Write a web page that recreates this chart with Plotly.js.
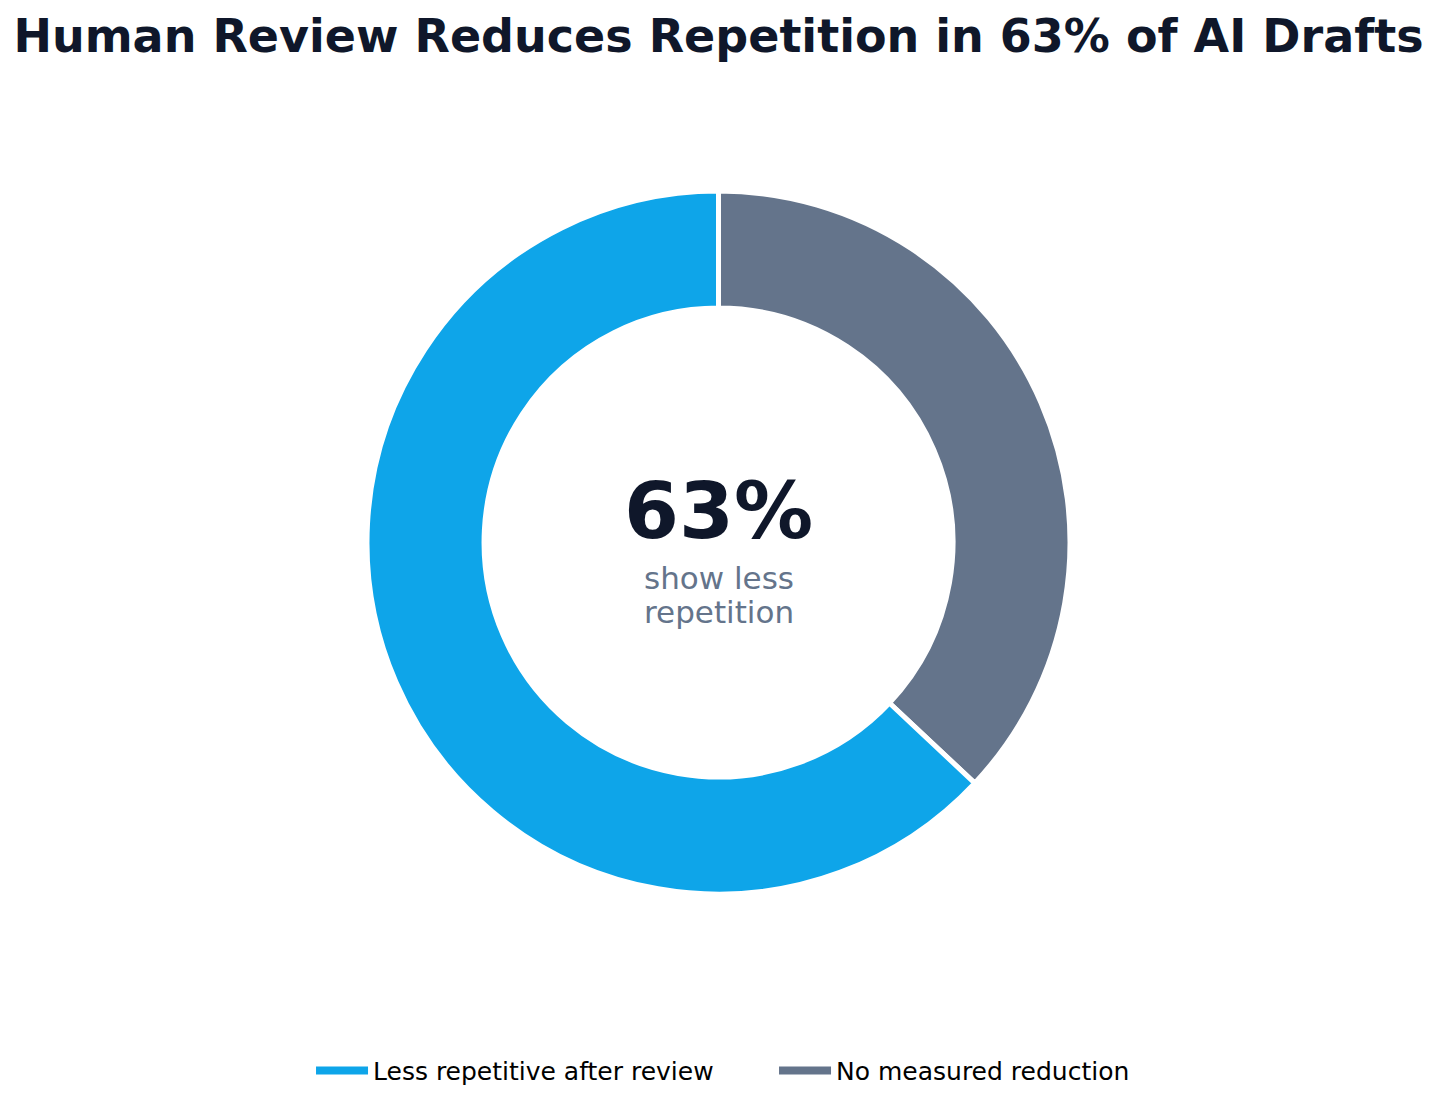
<!DOCTYPE html>
<html>
<head>
<meta charset="utf-8">
<script src="https://cdn.plot.ly/plotly-3.0.1.min.js"></script>
<style>
  html, body { margin: 0; padding: 0; background: #ffffff; }
  #chart { width: 1437px; height: 1110px; }
</style>
</head>
<body>
<div id="chart"></div>
<script>
    const labels = ["Less repetitive after review", "No measured reduction"];
    const shares = [63, 37];
    const colors = ["#0EA5E9", "#64748B"];
    const headline = "63%";
    const sublines = ["show less", "repetition"];

    const font = "DejaVu Sans, sans-serif";

    // the blue share runs anticlockwise from 12 o'clock, so the grey share
    // is drawn first going clockwise
    const donut = {
        type: "pie",
        labels: labels.slice().reverse(),
        values: shares.slice().reverse(),
        hole: 0.667,
        sort: false,
        direction: "clockwise",
        rotation: 0,
        textinfo: "none",
        hoverinfo: "label+percent",
        showlegend: false,
        marker: { colors: colors.slice().reverse(), line: { color: "#ffffff", width: 5 } },
    };

    // legend entries drawn as short bars, like the original
    const legendTraces = labels.map((name, i) => ({
        type: "scatter",
        mode: "lines",
        name: name,
        x: [null],
        y: [null],
        line: { color: colors[i], width: 8 },
        hoverinfo: "skip",
    }));

    const subNotes = sublines.map((t, i) => ({
        text: t,
        x: 0.5, y: 0.4495 - i * 0.0485, xref: "paper", yref: "paper",
        showarrow: false,
        font: { family: font, size: 31, color: "#64748B" },
    }));

    const layout = {
        width: 1437,
        height: 1110,
        margin: { l: 60, r: 60, t: 191, b: 216 },
        paper_bgcolor: "#ffffff",
        plot_bgcolor: "#ffffff",
        font: { family: font, color: "#000000" },
        title: {
            text: "<b>Human Review Reduces Repetition in 63% of AI Drafts</b>",
            font: { family: font, size: 46, color: "#0F172A" },
            x: 0.5,
            xanchor: "center",
            yref: "container",
            y: 0.968,
            yanchor: "middle",
        },
        xaxis: { visible: false },
        yaxis: { visible: false },
        showlegend: true,
        legend: {
            orientation: "h",
            x: 0.1906,
            xanchor: "left",
            y: -0.2515,
            yanchor: "middle",
            font: { family: font, size: 25, color: "#000000" },
            itemwidth: 52,
            entrywidth: 396,
            entrywidthmode: "pixels",
        },
        annotations: [
            {
                text: "<b>" + headline + "</b>",
                x: 0.5, y: 0.545, xref: "paper", yref: "paper",
                showarrow: false,
                font: { family: font, size: 79, color: "#0F172A" },
            },
            ...subNotes,
        ],
    };

    Plotly.newPlot("chart", [donut, ...legendTraces], layout, { displayModeBar: false });
</script>
</body>
</html>
